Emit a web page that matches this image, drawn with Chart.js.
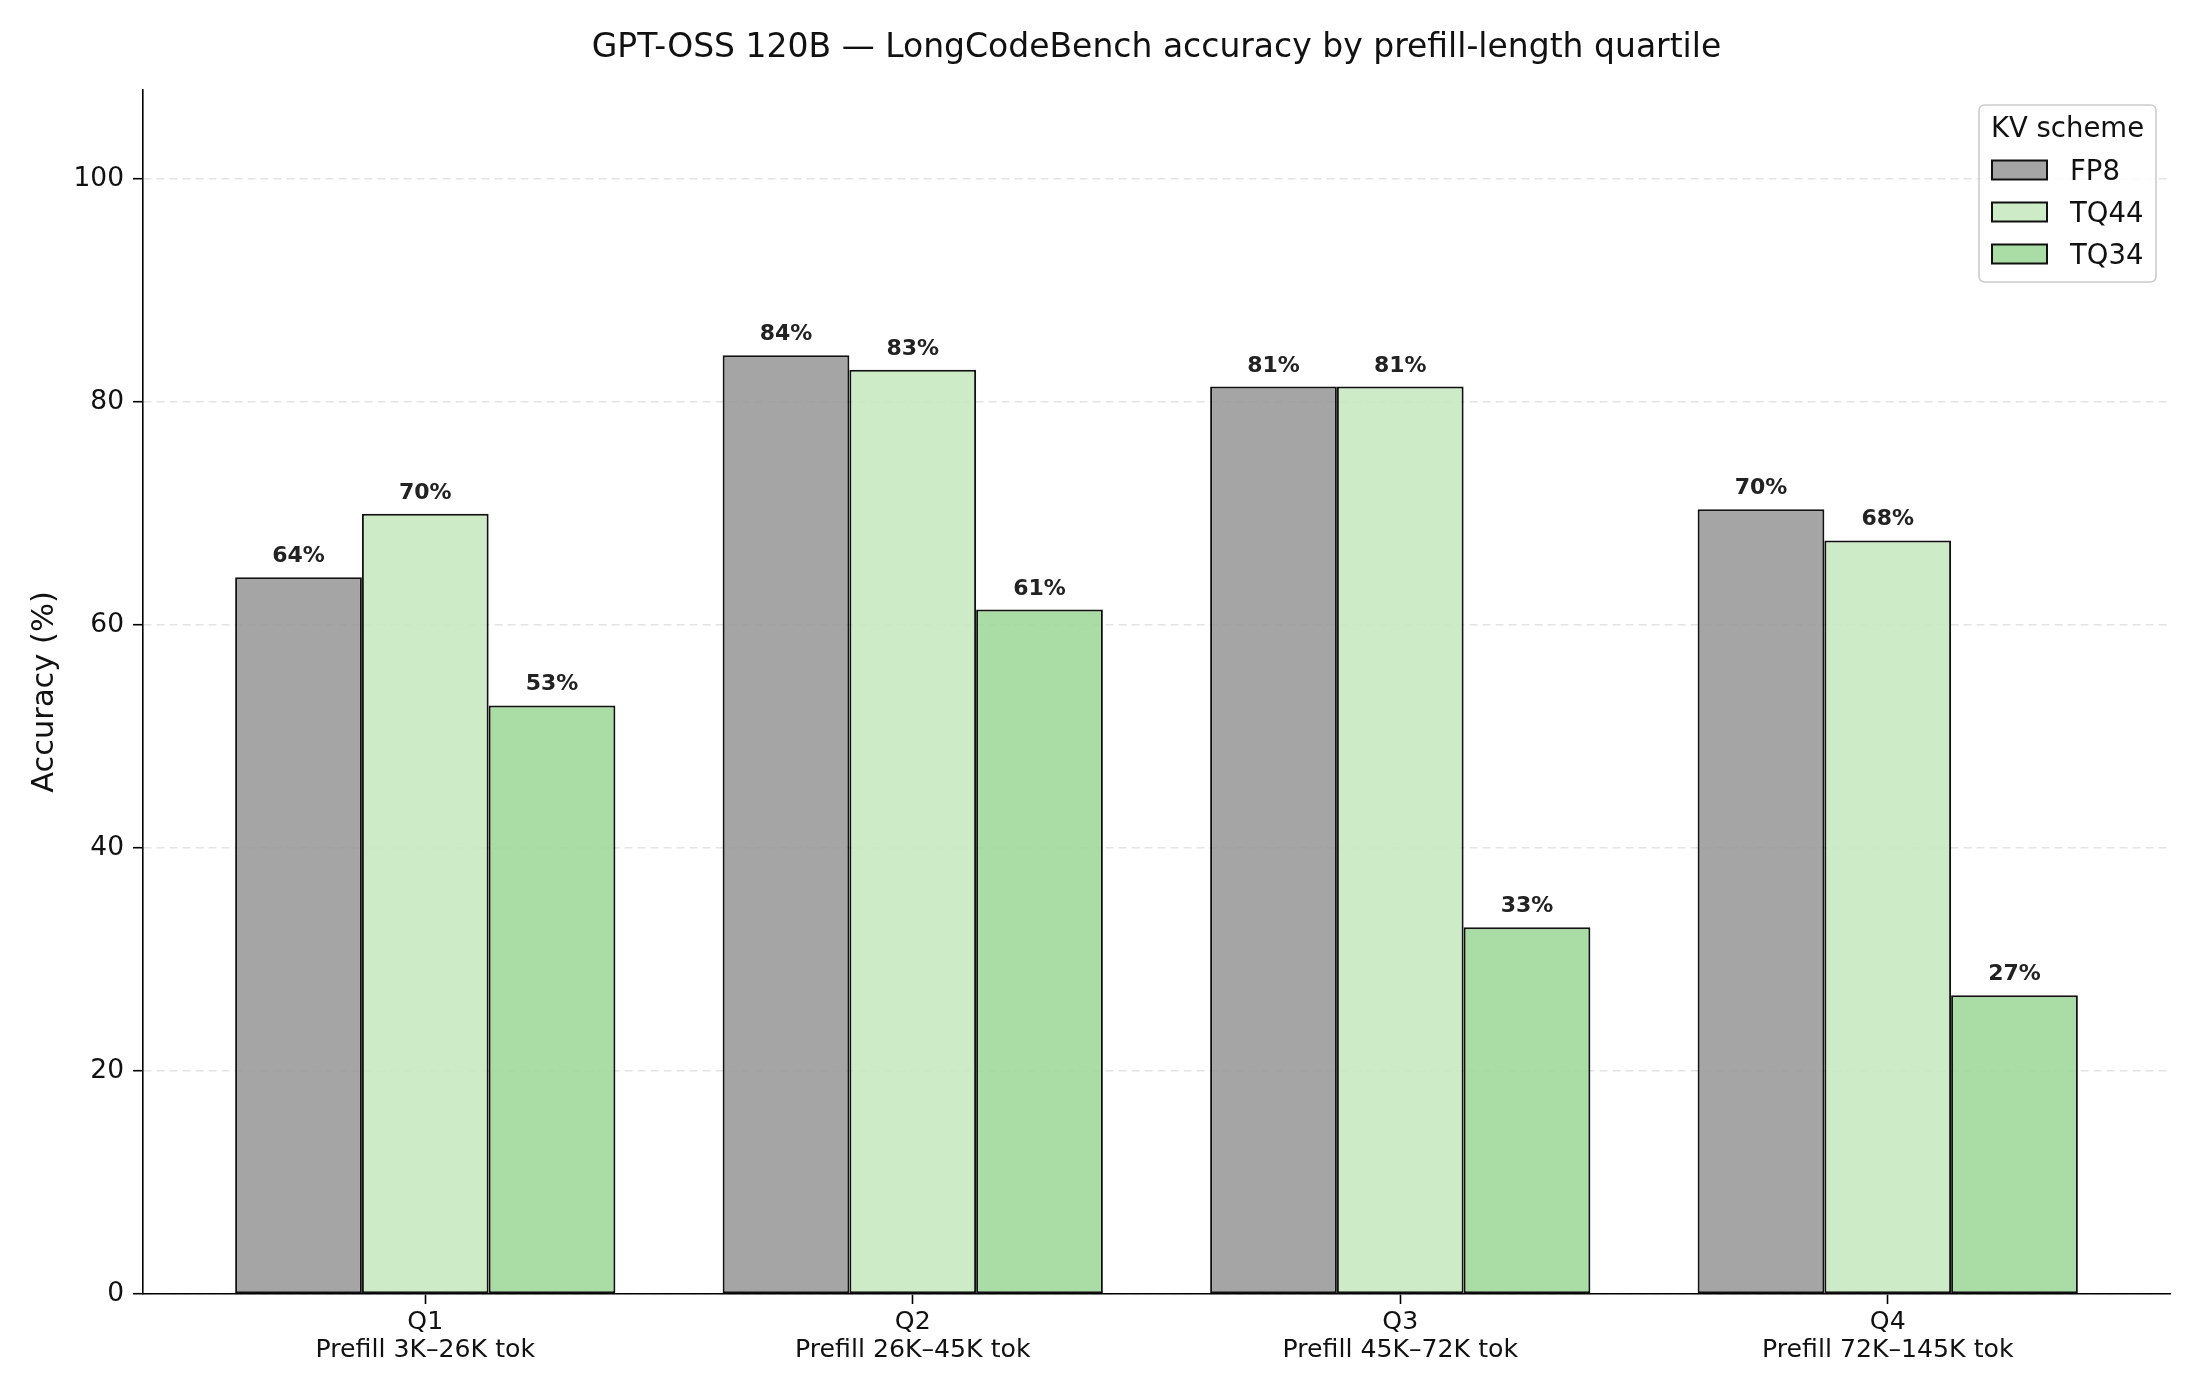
<!DOCTYPE html>
<html>
<head>
<meta charset="utf-8">
<script src="https://cdn.jsdelivr.net/npm/chart.js@4.4.1/dist/chart.umd.min.js"></script>
<style>
  html, body { margin: 0; padding: 0; background: #ffffff; }
  #wrap { width: 2200px; height: 1400px; }
</style>
</head>
<body>
<div id="wrap"><canvas id="c" width="2200" height="1400"></canvas></div>
<script>
// ---- data ----
const categories = ['Q1', 'Q2', 'Q3', 'Q4'];
const prefillLabels = ['Prefill 3K–26K tok', 'Prefill 26K–45K tok', 'Prefill 45K–72K tok', 'Prefill 72K–145K tok'];
const seriesNames = ['FP8', 'TQ44', 'TQ34'];
const fp8 = [64.3, 84.2, 81.4, 70.4];
const tq44 = [70.0, 82.9, 81.4, 67.6];
const tq34 = [52.8, 61.4, 32.9, 26.8];
const yTicks = [0, 20, 40, 60, 80, 100];
const titleText = 'GPT-OSS 120B — LongCodeBench accuracy by prefill-length quartile';
const yTitle = 'Accuracy (%)';
const legendTitle = 'KV scheme';

const colors = ['rgba(153,153,153,0.88)', 'rgba(199,233,192,0.9)', 'rgba(161,217,155,0.9)'];
const FONT = "'DejaVu Sans', 'Liberation Sans', sans-serif";

function toPoints(arr) { return arr.map((v, i) => ({ x: i, y: v })); }
const seriesValues = [fp8, tq44, tq34];

const datasets = seriesNames.map((name, k) => ({
  label: name,
  data: toPoints(seriesValues[k]),
  backgroundColor: colors[k],
  borderColor: '#111111',
  borderWidth: 2,
  borderSkipped: false,
  categoryPercentage: 0.78,
  barPercentage: 1.0
}));

const overlay = {
  id: 'overlay',
  afterDatasetsDraw(chart) {
    const ctx = chart.ctx;
    ctx.save();
    ctx.font = 'bold 22px ' + FONT;
    ctx.fillStyle = '#222222';
    ctx.textAlign = 'center';
    ctx.textBaseline = 'alphabetic';
    chart.data.datasets.forEach((ds, di) => {
      const meta = chart.getDatasetMeta(di);
      meta.data.forEach((bar, i) => {
        const v = ds.data[i].y;
        ctx.fillText(Math.round(v) + '%', bar.x, bar.y - 15);
      });
    });
    ctx.restore();
  },
  afterDraw(chart) {
    const ctx = chart.ctx;
    const area = chart.chartArea;
    ctx.save();
    // title
    ctx.font = '33px ' + FONT;
    ctx.fillStyle = '#111111';
    ctx.textAlign = 'center';
    ctx.textBaseline = 'middle';
    ctx.fillText(titleText, (area.left + area.right) / 2, 48);

    // legend
    const bx = area.right - 191, by = area.top + 15, bw = 177, bh = 177;
    const r = 6;
    ctx.beginPath();
    ctx.moveTo(bx + r, by);
    ctx.lineTo(bx + bw - r, by);
    ctx.quadraticCurveTo(bx + bw, by, bx + bw, by + r);
    ctx.lineTo(bx + bw, by + bh - r);
    ctx.quadraticCurveTo(bx + bw, by + bh, bx + bw - r, by + bh);
    ctx.lineTo(bx + r, by + bh);
    ctx.quadraticCurveTo(bx, by + bh, bx, by + bh - r);
    ctx.lineTo(bx, by + r);
    ctx.quadraticCurveTo(bx, by, bx + r, by);
    ctx.closePath();
    ctx.fillStyle = 'rgba(255,255,255,0.85)';
    ctx.fill();
    ctx.strokeStyle = '#cccccc';
    ctx.lineWidth = 1.6;
    ctx.stroke();

    ctx.font = '27.5px ' + FONT;
    ctx.fillStyle = '#111111';
    ctx.textAlign = 'center';
    ctx.textBaseline = 'alphabetic';
    ctx.fillText(legendTitle, bx + bw / 2, by + 32);

    ctx.textAlign = 'left';
    chart.data.datasets.forEach((ds, k) => {
      const cy = by + 65 + k * 42;
      ctx.fillStyle = '#ffffff';
      ctx.fillRect(bx + 13, cy - 9.5, 55, 19);
      ctx.fillStyle = ds.backgroundColor;
      ctx.fillRect(bx + 13, cy - 9.5, 55, 19);
      ctx.strokeStyle = '#111111';
      ctx.lineWidth = 2;
      ctx.strokeRect(bx + 13, cy - 9.5, 55, 19);
      ctx.fillStyle = '#111111';
      ctx.fillText(ds.label, bx + 91, cy + 9.5);
    });
    ctx.restore();
  }
};

new Chart(document.getElementById('c'), {
  type: 'bar',
  data: { datasets },
  plugins: [overlay],
  options: {
    responsive: false,
    animation: false,
    devicePixelRatio: 1,
    layout: { padding: { top: 90, right: 30, bottom: 0, left: 0 } },
    plugins: {
      legend: { display: false },
      title: { display: false },
      tooltip: { enabled: false }
    },
    scales: {
      x: {
        type: 'linear',
        min: -0.579,
        max: 3.579,
        offset: false,
        afterBuildTicks(scale) { scale.ticks = categories.map((c, i) => ({ value: i })); },
        afterFit(scale) { scale.height = 106; },
        grid: {
          display: true,
          drawOnChartArea: false,
          drawTicks: true,
          tickLength: 10,
          tickColor: '#000000',
          tickWidth: 1.6,
          offset: false
        },
        border: { display: true, color: '#000000', width: 1.6 },
        ticks: {
          autoSkip: false,
          maxRotation: 0,
          padding: 4,
          color: '#111111',
          font: { family: FONT, size: 25.2, lineHeight: 1.13 },
          callback: (v) => {
            const i = Math.round(v);
            return [categories[i], prefillLabels[i]];
          }
        }
      },
      y: {
        type: 'linear',
        min: 0,
        max: 108,
        afterBuildTicks(scale) { scale.ticks = yTicks.map(v => ({ value: v })); },
        afterFit(scale) { scale.width = 143; },
        grid: {
          display: true,
          drawOnChartArea: true,
          drawTicks: true,
          tickLength: 10,
          color: '#e4e4e4',
          lineWidth: 1.4,
          tickColor: '#000000',
          tickWidth: 1.6,
          tickBorderDash: []
        },
        border: { display: true, color: '#000000', width: 1.6, dash: [8, 5] },
        ticks: {
          padding: 9,
          color: '#111111',
          font: { family: FONT, size: 26.5 }
        },
        title: {
          display: true,
          text: yTitle,
          color: '#111111',
          font: { family: FONT, size: 30.5 },
          padding: { top: 27, bottom: 0 }
        }
      }
    }
  }
});
</script>
</body>
</html>
